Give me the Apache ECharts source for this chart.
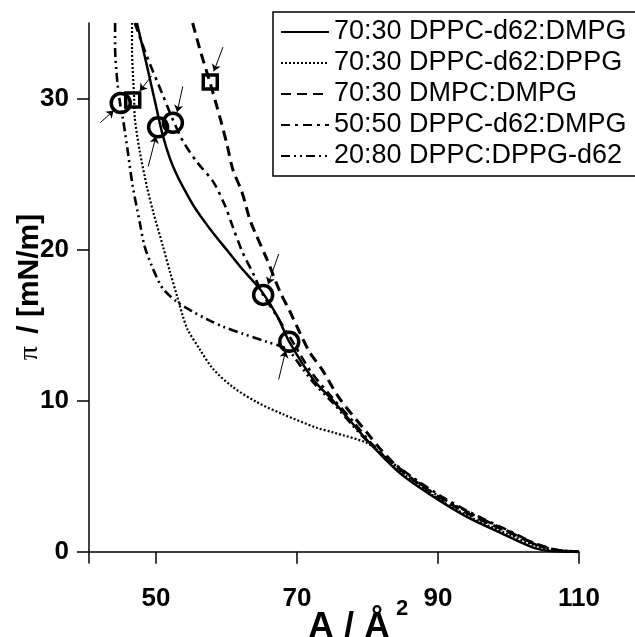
<!DOCTYPE html>
<html>
<head>
<meta charset="utf-8">
<script src="https://cdn.jsdelivr.net/npm/echarts@6/dist/echarts.min.js"></script>
<style>
  html, body { margin: 0; padding: 0; background: #fff; }
  #chart { width: 635px; height: 637px; }
</style>
</head>
<body>
<div id="chart"></div>
<script>
// isotherms: [A (Å^2), pi (mN/m)]
const dppcDmpg7030 = [[47.3, 35.0], [48.7, 32.2], [50.1, 29.3], [51.0, 27.5], [52.0, 26.0], [53.0, 24.9], [54.0, 24.0], [55.2, 23.0], [56.5, 22.1], [58.1, 21.1], [60.0, 20.0], [61.9, 18.9], [63.6, 18.0], [65.2, 17.1], [67.2, 15.6], [68.9, 13.9], [72.3, 11.4], [75.1, 10.0], [79.9, 7.4], [84.6, 5.2], [89.3, 3.65], [94.1, 2.3], [98.8, 1.26], [103.5, 0.27], [106, 0.05], [110, 0]]
const dppcDppg7030 = [[46.6, 35.0], [46.6, 33.4], [46.9, 30.1], [47.0, 28.7], [47.7, 26.5], [48.7, 24.2], [49.6, 22.5], [51.0, 20.2], [52.0, 18.5], [53.0, 16.9], [53.8, 15.6], [54.5, 14.7], [56.2, 13.4], [58.1, 12.1], [60.9, 10.9], [64.3, 9.9], [68.0, 9.1], [72.8, 8.2], [75.1, 7.9], [79.9, 7.2], [82, 6.5], [85, 5.2], [90, 3.5], [95, 2.2], [100, 1.15], [104, 0.35], [107, 0.05], [110, 0]]
const dmpcDmpg7030 = [[55.2, 35.0], [56.2, 33.3], [57.7, 31.0], [59.1, 28.7], [60.1, 26.9], [60.9, 25.3], [62.2, 23.8], [63.3, 22.0], [64.0, 21.2], [65.7, 19.4], [67.6, 17.2], [69.0, 15.9], [70.4, 14.5], [71.8, 13.2], [73.5, 12.1], [76.1, 10.1], [79.9, 7.9], [82, 6.7], [85, 5.3], [90, 3.65], [95, 2.35], [100, 1.3], [104, 0.5], [107, 0.1], [110, 0]]
const dppcDmpg5050 = [[47.0, 35.0], [48.7, 32.8], [50.9, 30.3], [52.3, 28.7], [53.8, 27.2], [55.8, 25.8], [58.1, 24.5], [59.8, 22.9], [60.9, 21.5], [62.3, 19.8], [63.8, 18.4], [65.2, 17.0], [67.0, 15.7], [69.0, 14.2], [72.0, 11.9], [75.0, 10.2], [78.0, 8.6], [81, 6.95], [85, 5.4], [90, 3.8], [95, 2.5], [100, 1.4], [104, 0.5], [107, 0.1], [110, 0]]
const dppcDppg2080 = [[44.2, 35.0], [44.2, 33.4], [44.5, 31.2], [44.9, 29.7], [45.3, 28.7], [46.0, 26.5], [46.7, 24.2], [47.7, 21.8], [48.4, 20.2], [49.6, 18.7], [51.0, 17.4], [53.1, 16.5], [55.2, 15.9], [57.2, 15.4], [59.5, 14.9], [62.5, 14.4], [65.7, 13.9], [68.6, 13.4], [70.5, 12.3], [72.5, 11.1], [75.0, 9.9], [78.0, 8.3], [81, 6.85], [85, 5.35], [90, 3.7], [95, 2.45], [100, 1.35], [104, 0.45], [107, 0.1], [110, 0]]

const circles = [[45.0, 29.7], [50.3, 28.1], [52.4, 28.4], [65.2, 17.0], [68.9, 13.9]]
const squares = [[46.7, 29.9], [57.7, 31.1]]
const arrows = [
  [[42.1, 28.4], [44.0, 29.2]],
  [[49.4, 31.5], [47.7, 30.5]],
  [[48.9, 25.5], [50.0, 27.5]],
  [[53.8, 30.8], [53.0, 29.1]],
  [[59.5, 33.4], [58.2, 31.8]],
  [[67.4, 19.7], [65.9, 17.7]],
  [[67.4, 11.4], [68.4, 13.3]]
]

const xTicks = [50, 70, 90, 110]
const yTicks = [0, 10, 20, 30]

const names = ['70:30 DPPC-d62:DMPG', '70:30 DPPC-d62:DPPG', '70:30 DMPC:DMPG', '50:50 DPPC-d62:DMPG', '20:80 DPPC:DPPG-d62']
const curves = [dppcDmpg7030, dppcDppg7030, dmpcDmpg7030, dppcDmpg5050, dppcDppg2080]
const dashes = ['solid', [2, 2], [10, 6], [9, 5, 3, 5], [9, 4, 2, 4, 2, 4]]
const widths = [2.5, 2.2, 3, 2.6, 2.6]

const font = "'Liberation Sans', Arial, sans-serif"
const chart = echarts.init(document.getElementById('chart'))

const lineSeries = curves.map((d, i) => ({
  name: names[i],
  type: 'line',
  data: d,
  smooth: 0.3,
  symbol: 'none',
  silent: true,
  itemStyle: { color: '#000' },
  lineStyle: { color: '#000', width: widths[i], type: dashes[i] }
}))

chart.setOption({
  animation: false,
  backgroundColor: '#fff',
  grid: { left: 89, right: 56, top: 23, bottom: 74, outerBoundsMode: 'none' },
  legend: {
    data: names,
    orient: 'vertical',
    left: 273,
    top: 12,
    padding: [6, 40, 6, 7],
    itemGap: 3,
    itemWidth: 48,
    itemHeight: 14,
    borderColor: '#000',
    borderWidth: 1.5,
    itemStyle: { opacity: 0 },
    textStyle: { fontFamily: font, fontSize: 27, lineHeight: 28, color: '#000' }
  },
  xAxis: {
    type: 'value',
    min: 40.5,
    max: 110,
    splitLine: { show: false },
    axisLine: { lineStyle: { color: '#000', width: 1.5 } },
    axisTick: { customValues: xTicks, length: 12, lineStyle: { color: '#000', width: 1.5 } },
    axisLabel: { customValues: xTicks, margin: 23, fontFamily: font, fontSize: 26, fontWeight: 'bold', color: '#000' },
    name: '{b|A / Å}{s|2}',
    nameLocation: 'middle',
    nameGap: 35,
    nameMoveOverlap: false,
    nameTextStyle: {
      padding: [0, 0, 0, 48],
      rich: {
        b: { fontFamily: font, fontSize: 36, fontWeight: 'bold', color: '#000', verticalAlign: 'bottom' },
        s: { fontFamily: font, fontSize: 22, fontWeight: 'bold', color: '#000', verticalAlign: 'bottom', padding: [0, 0, 26, 6] }
      }
    }
  },
  yAxis: {
    type: 'value',
    min: -0.75,
    max: 35,
    splitLine: { show: false },
    axisLine: { lineStyle: { color: '#000', width: 1.5 } },
    axisTick: { customValues: yTicks, length: 12, lineStyle: { color: '#000', width: 1.5 } },
    axisLabel: { customValues: yTicks, margin: 20, fontFamily: font, fontSize: 26, fontWeight: 'bold', color: '#000' },
    name: '{p|π} / [mN/m]',
    nameLocation: 'middle',
    nameGap: 44,
    nameMoveOverlap: false,
    nameTextStyle: {
      fontFamily: font,
      fontSize: 30,
      fontWeight: 'bold',
      color: '#000',
      padding: [0, 0, 0, 12],
      rich: {
        p: { fontFamily: "'Liberation Serif', 'DejaVu Serif', serif", fontSize: 28, fontWeight: 'normal', color: '#000', padding: [0, 4, 0, 0] }
      }
    }
  },
  series: lineSeries.concat([
    {
      type: 'lines',
      coordinateSystem: 'cartesian2d',
      silent: true,
      symbol: ['none', 'arrow'],
      symbolSize: 7,
      lineStyle: { color: '#000', width: 1, opacity: 1 },
      data: arrows.map(a => ({ coords: a })),
      z: 4
    },
    {
      type: 'scatter',
      data: circles,
      symbol: 'circle',
      symbolSize: 19,
      silent: true,
      itemStyle: { color: 'rgba(0,0,0,0)', borderColor: '#000', borderWidth: 3.5, opacity: 1 },
      z: 5
    },
    {
      type: 'scatter',
      data: squares,
      symbol: 'rect',
      symbolSize: 14,
      silent: true,
      itemStyle: { color: 'rgba(0,0,0,0)', borderColor: '#000', borderWidth: 3.5, opacity: 1 },
      z: 5
    }
  ])
})
</script>
</body>
</html>
